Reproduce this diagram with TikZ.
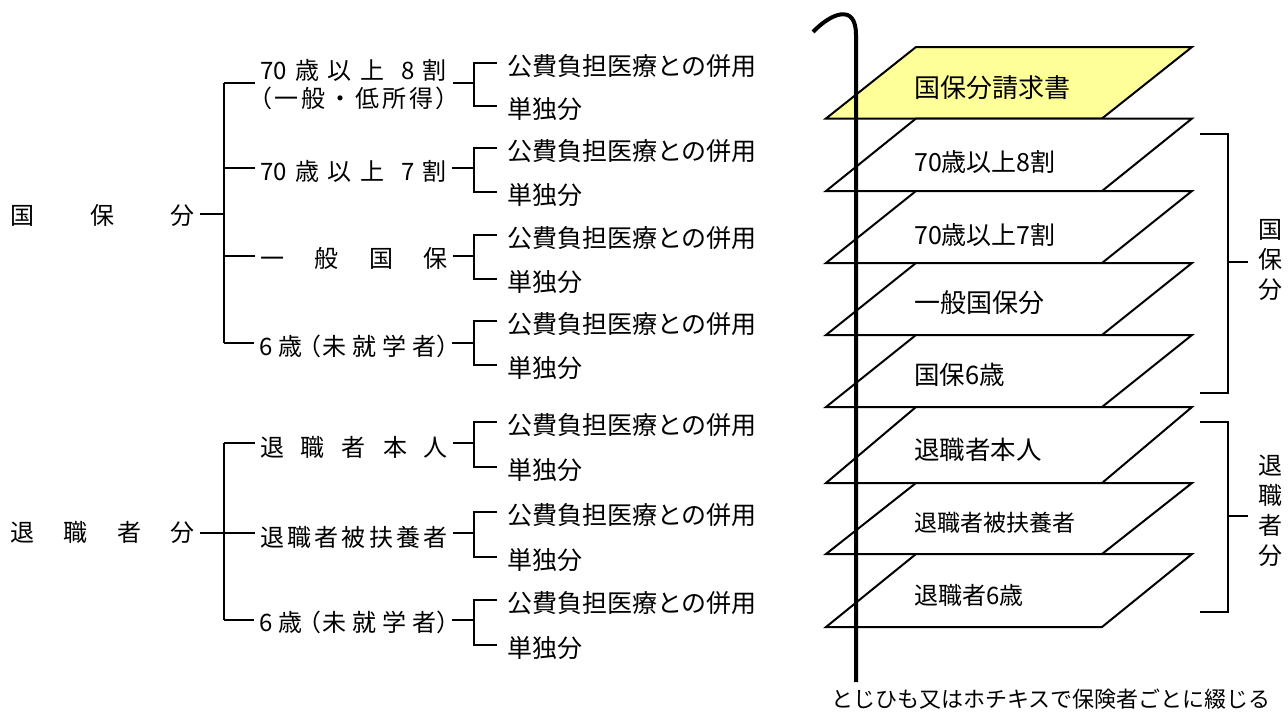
\documentclass[tikz,border=0pt]{standalone}
\usepackage{fontspec}
\setmainfont{Noto Sans CJK JP}
\definecolor{sheetyellow}{RGB}{255,255,153}
\begin{document}
\begin{tikzpicture}[x=1pt,y=-1pt,
  lbl/.style={inner sep=0pt, outer xsep=5pt, anchor=west, font=\fontsize{24}{28}\selectfont},
  sub/.style={inner sep=0pt, outer xsep=10pt, anchor=west, font=\fontsize{25}{30}\selectfont},
  tree/.style={line width=1.8pt},
  sheet/.style={draw, line width=2pt, fill=white, line join=miter},
  sheettxt/.style={inner sep=0pt, anchor=west},
  brk/.style={line width=1.5pt},
  string/.style={line width=4pt},
  vlbl/.style={inner sep=0pt, outer xsep=10pt, align=center, font=\fontsize{24}{30}\selectfont},
  note/.style={inner sep=0pt, font=\fontsize{22}{26}\selectfont}]
\useasboundingbox (0,0) rectangle (1288,713);

% ---------- left tree: root labels ----------
\node[lbl] (kokuho) at (5,215) {\makebox[185pt][s]{国\hfill 保\hfill 分}};
\node[lbl] (taishoku) at (5,532) {\makebox[185pt][s]{退\hfill 職\hfill 者\hfill 分}};

% ---------- branch labels ----------
\node[lbl, align=left] (k1) at (255,85)
  {\makebox[187pt][s]{70\hfill 歳\hfill 以\hfill 上\hfill\hfill 8\hfill 割}\\
   \hspace*{-12pt}\makebox[200pt][s]{（\hfill 一\hfill 般\hfill ・\hfill 低\hfill 所\hfill 得\hfill ）\kern-12pt}};
\node[lbl] (k2) at (255,171) {\makebox[187pt][s]{70\hfill 歳\hfill 以\hfill 上\hfill\hfill 7\hfill 割}};
\node[lbl] (k3) at (255,258) {\makebox[188pt][s]{一\hfill 般\hfill 国\hfill 保}};
\node[lbl] (k4) at (254,346) {\makebox[188pt][s]{6\hfill 歳\hfill\kern-10pt （\kern-5pt\hfill 未\hfill 就\hfill 学\hfill 者\hfill\kern-5pt ）\kern-14pt}};
\node[lbl] (r1) at (255,447) {\makebox[188pt][s]{退\hfill 職\hfill 者\hfill 本\hfill 人}};
\node[lbl] (r2) at (255,537) {\makebox[188pt][s]{退\hfill 職\hfill 者\hfill 被\hfill 扶\hfill 養\hfill 者}};
\node[lbl] (r3) at (254,622) {\makebox[188pt][s]{6\hfill 歳\hfill\kern-10pt （\kern-5pt\hfill 未\hfill 就\hfill 学\hfill 者\hfill\kern-5pt ）\kern-14pt}};

% ---------- branches, sub brackets, sub labels ----------
\foreach \n/\by/\t/\b in {k1/83/63/106, k2/168/148/192, k3/256/235/279, k4/343/321/365,
                          r1/443/422/467, r2/533/512/557, r3/620/600/645} {
  \coordinate (\n-m) at (224,\by);
  \coordinate (\n-j) at (474,\by);
  \coordinate (\n-t) at (474,\t);
  \coordinate (\n-b) at (474,\b);
  \node[sub] (\n-p) at (497,\t+3) {公費負担医療との併用};
  \node[sub] (\n-s) at (497,\b+3) {単独分};
  \draw[tree] (\n-m) -- (\n.west |- \n-m);
  \draw[tree] (\n.east |- \n-j) -- (\n-j);
  \draw[tree] (\n-p.west |- \n-t) -- (\n-t) -- (\n-b) -- (\n-s.west |- \n-b);
}
\coordinate (kj) at (224,214);
\coordinate (rj) at (224,533);
\draw[tree] (k1-m) -- (k4-m);
\draw[tree] (r1-m) -- (r3-m);
\draw[tree] (kokuho.east |- kj) -- (kj);
\draw[tree] (taishoku.east |- rj) -- (rj);

% ---------- stacked sheets ----------
\draw[sheet, fill=sheetyellow] (826,118.5) -- (1102,118.5) -- (1192,47) -- (916,47) -- cycle;
\draw[sheet] (826,191) -- (1102,191) -- (1192,118.5) -- (916,118.5) -- cycle;
\draw[sheet] (826,263) -- (1102,263) -- (1192,191) -- (916,191) -- cycle;
\draw[sheet] (826,335) -- (1102,335) -- (1192,263) -- (916,263) -- cycle;
\draw[sheet] (826,407) -- (1102,407) -- (1192,335) -- (916,335) -- cycle;
\draw[sheet] (826,483) -- (1102,483) -- (1192,407) -- (916,407) -- cycle;
\draw[sheet] (826,554) -- (1102,554) -- (1192,483) -- (916,483) -- cycle;
\draw[sheet] (826,627) -- (1102,627) -- (1192,554) -- (916,554) -- cycle;

\node[sheettxt, font=\fontsize{26}{30}\selectfont] (s1) at (914,88) {国保分請求書};
\node[sheettxt, font=\fontsize{25}{30}\selectfont] (s2) at (914,162) {70歳以上8割};
\node[sheettxt, font=\fontsize{25}{30}\selectfont] (s3) at (914,235) {70歳以上7割};
\node[sheettxt, font=\fontsize{26}{30}\selectfont] (s4) at (914,303) {一般国保分};
\node[sheettxt, font=\fontsize{25.5}{30}\selectfont] (s5) at (914,375) {国保6歳};
\node[sheettxt, font=\fontsize{25.5}{30}\selectfont] (s6) at (914,450) {退職者本人};
\node[sheettxt, font=\fontsize{23}{28}\selectfont] (s7) at (914,523) {退職者被扶養者};
\node[sheettxt, font=\fontsize{24}{28}\selectfont] (s8) at (914,595) {退職者6歳};

% ---------- string ----------
\coordinate (strstart) at (813,32);
\coordinate (strend) at (856,682);
\draw[string] (strstart) .. controls (830,14) and (856,2) .. (856,35) -- (strend);
\node[note] (notetext) at (1051,699) {とじひも又はホチキスで保険者ごとに綴じる};

% ---------- right brackets ----------
\node[vlbl] (kv) at (1270,260) {国\\保\\分};
\coordinate (kbt) at (1200,134);
\coordinate (kbb) at (1200,393);
\coordinate (kbm) at (1228,262);
\draw[brk] (kbt) -- (kbm |- kbt) -- (kbm |- kbb) -- (kbb);
\draw[brk] (kbm) -- (kv.west |- kbm);

\node[vlbl] (rv) at (1270,511) {退\\職\\者\\分};
\coordinate (rbt) at (1200,422);
\coordinate (rbb) at (1200,612);
\coordinate (rbm) at (1228,516);
\draw[brk] (rbt) -- (rbm |- rbt) -- (rbm |- rbb) -- (rbb);
\draw[brk] (rbm) -- (rv.west |- rbm);
\end{tikzpicture}
\end{document}
